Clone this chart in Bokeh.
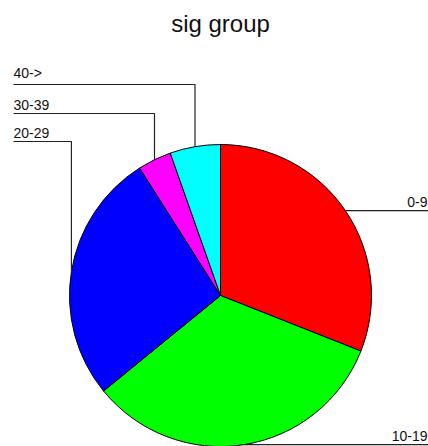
import numpy as np
from bokeh.plotting import figure
from bokeh.models import Range1d
from bokeh.core.properties import value
from bokeh.embed import file_html
from bokeh.resources import INLINE

# Share of records per "sig" group (percent)
groups = ["0-9", "10-19", "20-29", "30-39", "40->"]
shares = [31.0, 33.1, 26.9, 3.6, 5.4]
colors = ["#ff0000", "#00ff00", "#0000ff", "#ff00ff", "#00ffff"]

W, H = 428, 446
CX, CY, R = 220, 151, 151          # pie centre and radius (screen units, y up)
FONT = value("Liberation Sans")

p = figure(width=W, height=H, x_range=Range1d(0, W), y_range=Range1d(0, H),
           output_backend="svg", toolbar_location=None, min_border=0)
p.axis.visible = False
p.grid.visible = False
p.outline_line_color = None

# slices run clockwise from 12 o'clock
fr = np.array(shares) / np.sum(shares)
ends = np.pi / 2 - 2 * np.pi * np.cumsum(fr)
starts = np.concatenate([[np.pi / 2], ends[:-1]])
mids = (starts + ends) / 2

p.wedge(x=CX, y=CY, radius=R, start_angle=ends, end_angle=starts,
        fill_color=colors, line_color="black", line_width=1)

# leader lines and labels
left_levels = iter([H - 141, H - 113, H - 84])
lx, ly, tx, ty, ta, tt = [], [], [], [], [], []
for g, a in zip(groups, mids):
    px, py = CX + R * np.cos(a), CY + R * np.sin(a)
    if np.cos(a) < 0:
        lev = next(left_levels)
        lx.append([px, px, 13]); ly.append([py, lev, lev])
        tx.append(13); ty.append(lev + 4); ta.append("left")
    else:
        lx.append([px, W]); ly.append([py, py])
        tx.append(W - 1); ty.append(py + 4); ta.append("right")
    tt.append(g)

p.multi_line(xs=lx, ys=ly, line_color="#222222", line_width=1.2)
p.text(x=tx, y=ty, text=tt, text_align=ta, text_baseline="bottom",
       text_font=FONT, text_font_size="14px", text_color="#111111")

p.text(x=[220], y=[H - 9], text=["sig group"], text_align="center",
       text_baseline="top", text_font=FONT, text_font_size="24px",
       text_color="#111111")

open("out.html", "w").write(file_html(p, INLINE))
